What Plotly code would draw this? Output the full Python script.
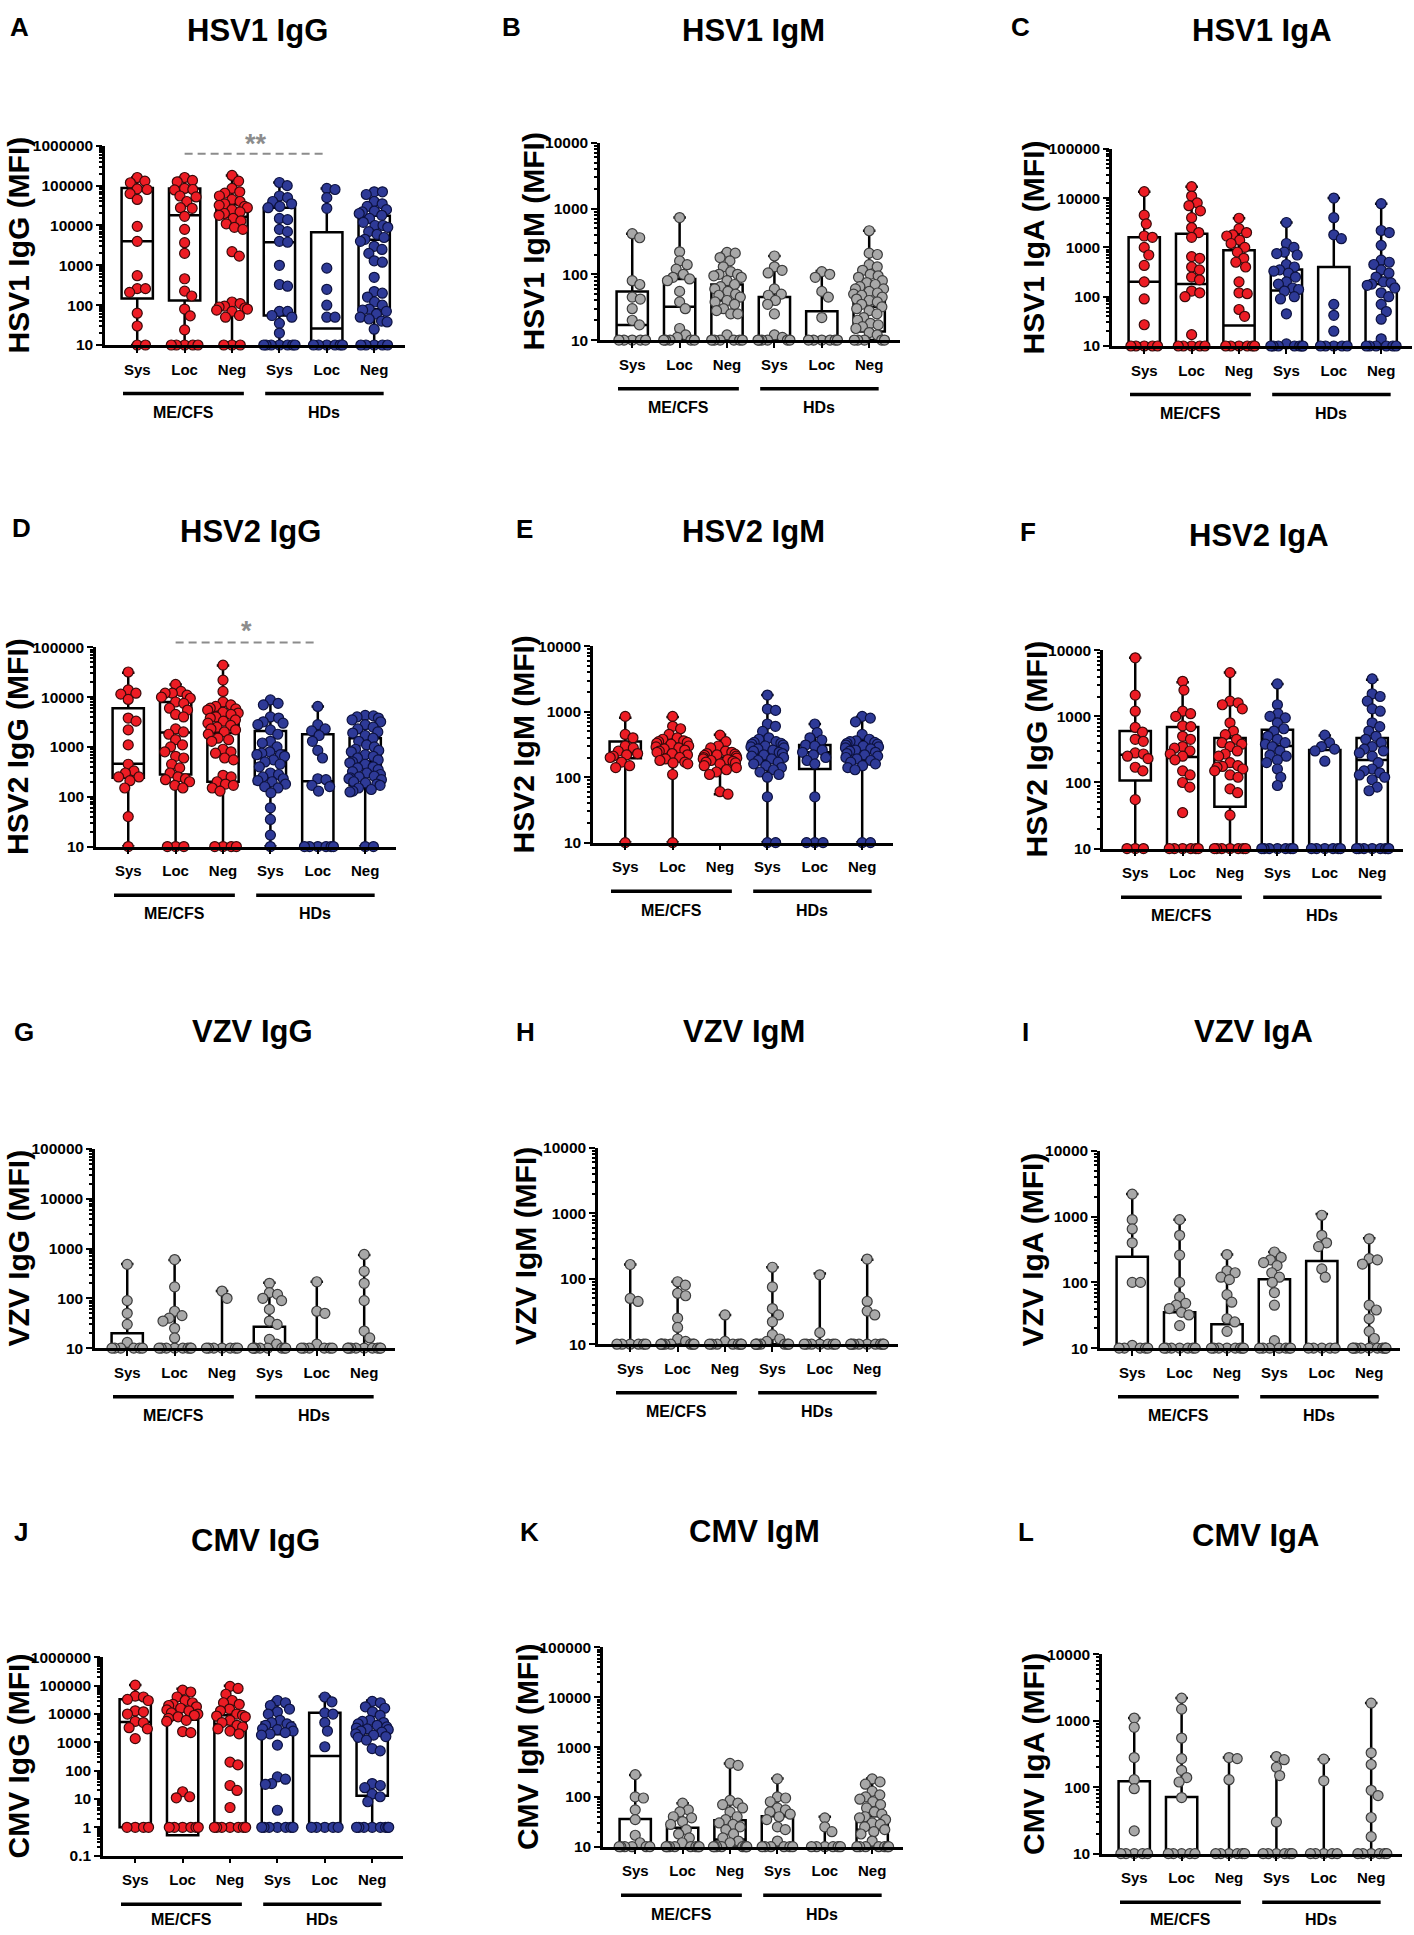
import numpy as np
import plotly.graph_objects as go

# ---- data (MFI values, one list per group) ----
GROUPS = ["Sys", "Loc", "Neg", "Sys", "Loc", "Neg"]
COHORTS = ["ME/CFS", "HDs"]
DECADE_LABELS = ["0.1", "1", "10", "100", "1000", "10000", "100000", "1000000"]

# order of groups: ME/CFS Sys, Loc, Neg, HDs Sys, Loc, Neg
HSV1_IGG = [
    [160000, 130000, 118000, 83000, 80000, 63000, 45000, 9500, 4000, 550, 260, 260, 210, 63, 30, 10, 10],
    [160000, 135000, 125000, 85000, 80000, 78000, 55000, 52000, 40000, 28000, 27000, 17000, 8000, 3700, 2000,
     460, 225, 170, 80, 54, 24, 10, 10, 10, 10, 10],
    [180000, 130000, 85000, 70000, 65000, 55000, 45000, 40000, 35000, 32000, 30000, 28000, 25000, 22000, 20000,
     18000, 15000, 13000, 11000, 9000, 8000, 2200, 1700, 120, 110, 95, 90, 85, 80, 75, 70, 55, 50, 10, 10, 10],
    [120000, 100000, 55000, 50000, 40000, 35000, 30000, 28000, 15000, 14000, 8000, 7000, 4000, 3800, 1000, 330,
     300, 70, 70, 55, 50, 35, 20, 10, 10, 10, 10, 10, 10, 10],
    [85000, 80000, 50000, 27000, 850, 250, 100, 50, 50, 10, 10, 10, 10, 10, 10],
    [70000, 70000, 60000, 40000, 35000, 30000, 25000, 23000, 22000, 20000, 18000, 15000, 12000, 10000, 10000,
     9000, 7000, 6000, 5000, 4500, 4000, 3000, 2500, 2000, 1300, 1200, 500, 220, 200, 160, 120, 100, 80, 75, 70,
     60, 50, 45, 40, 38, 25, 10, 10, 10, 10, 10],
]
# box stats per group: [min, q1, median, q3, max]
HSV1_IGG_BOX = [[10, 148, 4000, 87000, 160000], [10, 131, 18000, 85000, 160000], [10, 109, 16600, 34000, 180000],
                [10, 55, 3800, 28000, 120000], [10, 10, 26, 6800, 85000], [10, 79, 4400, 17500, 70000]]

HSV1_IGM = [
    [415, 360, 80, 70, 45, 42, 30, 20, 17, 10, 10, 10, 10, 10],
    [730, 220, 160, 140, 120, 100, 90, 85, 80, 55, 38, 30, 15, 12, 11, 10, 10, 10, 10, 10],
    [215, 210, 180, 160, 130, 110, 100, 100, 95, 90, 80, 70, 65, 60, 55, 50, 48, 45, 40, 38, 35, 30, 28, 25, 25,
     12, 10, 10, 10, 10, 10, 10],
    [190, 130, 115, 105, 60, 50, 48, 40, 35, 25, 12, 11, 10, 10, 10, 10, 10, 10],
    [110, 100, 90, 55, 45, 22, 10, 10, 10, 10, 10, 10],
    [460, 210, 200, 140, 130, 115, 100, 95, 90, 80, 75, 70, 65, 60, 60, 55, 52, 50, 48, 45, 42, 40, 38, 35, 32,
     30, 28, 25, 22, 20, 18, 17, 16, 15, 13, 12, 10, 10, 10, 10, 10],
]
HSV1_IGM_BOX = [[10, 10, 17, 55, 415], [10, 10, 32, 85, 730], [10, 10, 40, 70, 215],
                [10, 10, 11, 45, 190], [10, 10, 10, 27.5, 112], [10, 13.5, 32, 65, 460]]

HSV1_IGA = [
    [13500, 4500, 3000, 1700, 1600, 1000, 700, 430, 200, 90, 27, 10, 10, 10, 10, 10],
    [17000, 11000, 8000, 7000, 5500, 4000, 2500, 2000, 1600, 650, 600, 400, 350, 250, 220, 130, 120, 100, 17,
     10, 10, 10, 10, 10],
    [3900, 2400, 2000, 1800, 1700, 1400, 1200, 1000, 800, 600, 500, 400, 200, 120, 115, 55, 40, 10, 10, 10, 10,
     10, 10],
    [3200, 1200, 1000, 800, 750, 700, 450, 400, 350, 330, 300, 250, 200, 180, 150, 140, 130, 100, 90, 45, 11,
     10, 10, 10, 10, 10, 10, 10],
    [10000, 4000, 1800, 1500, 70, 42, 20, 10, 10, 10, 10, 10],
    [7700, 2200, 2000, 1100, 550, 500, 450, 350, 300, 250, 200, 190, 180, 170, 150, 120, 100, 70, 50, 35, 14,
     10, 10, 10, 10, 10, 10],
]
HSV1_IGA_BOX = [[10, 10, 200, 1600, 13500], [10, 10, 180, 1900, 17000], [10, 10, 26, 870, 3900],
                [10, 10, 133, 355, 3200], [10, 10, 10, 400, 10000], [10, 10, 10, 180, 7700]]

HSV2_IGG = [
    [32000, 14000, 12000, 11500, 9000, 3800, 3300, 2200, 1100, 450, 330, 300, 250, 250, 210, 150, 40, 10],
    [18000, 13000, 12000, 12000, 11000, 10000, 9500, 8000, 7500, 6000, 5500, 4500, 4000, 2300, 2000, 1800, 1400,
     1100, 1000, 800, 650, 600, 450, 380, 300, 250, 230, 220, 200, 170, 150, 10, 10, 10],
    [44000, 22000, 13000, 8000, 7000, 6500, 6000, 5800, 5500, 5000, 4800, 4500, 4000, 3800, 3500, 3300, 3000,
     2700, 2500, 2300, 2200, 2000, 1800, 1500, 1400, 1300, 900, 800, 750, 600, 550, 270, 250, 200, 180, 170,
     150, 130, 10, 10, 10, 10],
    [8800, 7500, 7000, 4000, 3800, 3200, 3000, 2800, 2200, 1800, 1300, 1200, 1000, 800, 750, 700, 700, 650, 550,
     500, 450, 400, 300, 280, 250, 230, 210, 200, 180, 160, 150, 120, 60, 35, 17, 10],
    [6500, 2800, 2300, 2100, 1700, 1300, 850, 600, 230, 220, 170, 160, 130, 10, 10, 10, 10, 10, 10],
    [4300, 4200, 4000, 3800, 3500, 3200, 2800, 2500, 2300, 2000, 1900, 1700, 1500, 1300, 1100, 1000, 900, 850,
     800, 700, 650, 600, 550, 500, 480, 450, 400, 380, 350, 320, 300, 280, 260, 250, 240, 230, 220, 200, 190,
     180, 170, 150, 140, 130, 125, 10, 10],
]
HSV2_IGG_BOX = [[10, 240, 460, 6000, 31000], [10, 280, 1950, 8000, 18000], [10, 200, 1900, 4900, 43000],
                [10, 183, 850, 2100, 8400], [10, 10, 205, 1800, 6500], [10, 170, 510, 1500, 4400]]

HSV2_IGM = [
    [850, 450, 400, 300, 280, 250, 230, 220, 210, 200, 170, 150, 140, 10],
    [850, 600, 550, 450, 400, 380, 360, 350, 340, 330, 320, 300, 290, 280, 270, 260, 250, 240, 230, 220, 200,
     190, 180, 170, 165, 160, 110, 10],
    [440, 350, 300, 280, 250, 240, 230, 225, 220, 215, 210, 200, 195, 190, 185, 180, 175, 170, 165, 160, 150,
     140, 130, 120, 110, 60, 55],
    [1800, 1100, 1050, 650, 600, 500, 400, 380, 350, 340, 330, 320, 310, 300, 290, 280, 270, 260, 250, 240, 230,
     220, 210, 200, 190, 180, 170, 160, 150, 140, 130, 120, 110, 100, 50, 10, 10],
    [650, 480, 400, 370, 310, 300, 260, 240, 220, 200, 180, 160, 50, 10, 10, 10],
    [850, 800, 700, 450, 380, 360, 350, 340, 330, 320, 310, 300, 290, 280, 270, 260, 250, 240, 230, 220, 210,
     200, 190, 180, 170, 160, 150, 140, 130, 10, 10],
]
HSV2_IGM_BOX = [[10, 194, 230, 350, 810], [10, 190, 285, 370, 830], [55, 170, 200, 230, 445],
                [10, 178, 225, 360, 1800], [10, 133, 240, 310, 650], [10, 183, 250, 360, 840]]

HSV2_IGA = [
    [7700, 2100, 1200, 680, 580, 450, 420, 280, 270, 250, 230, 170, 150, 55, 10, 10, 10],
    [3400, 2500, 1200, 1100, 1000, 720, 700, 500, 450, 350, 330, 300, 270, 250, 220, 150, 130, 100, 85, 35,
     10, 10, 10, 10, 10, 10],
    [4600, 1700, 1600, 1500, 1300, 800, 600, 530, 450, 400, 380, 350, 300, 270, 250, 200, 180, 175, 170, 160,
     150, 130, 120, 80, 70, 32, 10, 10, 10, 10, 10, 10, 10],
    [3100, 1500, 1100, 1000, 950, 800, 650, 600, 500, 450, 400, 380, 350, 300, 260, 250, 220, 200, 160, 120, 90,
     10, 10, 10, 10, 10, 10, 10],
    [520, 400, 350, 320, 300, 210, 10, 10, 10, 10, 10, 10],
    [3700, 2200, 2000, 1700, 1300, 1200, 800, 700, 600, 500, 450, 400, 350, 320, 300, 280, 250, 200, 160, 150,
     140, 130, 120, 110, 85, 75, 10, 10, 10, 10, 10, 10, 10, 10],
]
HSV2_IGA_BOX = [[10, 107, 263, 600, 7700], [10, 10, 243, 690, 3300], [10, 43, 175, 470, 4600],
                [10, 10, 355, 630, 3100], [10, 10, 10, 310, 515], [10, 10, 218, 470, 3600]]

VZV_IGG = [
    [480, 90, 50, 30, 13, 10, 10, 10, 10, 10, 10],
    [600, 170, 55, 45, 40, 35, 25, 16, 10, 10, 10, 10, 10, 10, 10, 10],
    [140, 100, 10, 10, 10, 10, 10, 10, 10],
    [200, 130, 120, 100, 90, 60, 35, 30, 15, 12, 10, 10, 10, 10, 10, 10, 10, 10],
    [215, 55, 50, 12, 10, 10, 10, 10, 10, 10],
    [760, 350, 200, 90, 22, 16, 10, 10, 10, 10, 10, 10, 10, 10, 10],
]
VZV_IGG_BOX = [[10, 10, 10, 20, 490], [10, 10, 10, 10, 590], [10, 10, 10, 10, 140],
               [10, 10, 10, 27, 205], [10, 10, 10, 10, 215], [10, 10, 10, 10, 740]]

VZV_IGM = [
    [165, 50, 45, 10, 10, 10, 10, 10, 10],
    [90, 80, 60, 55, 25, 18, 12, 11, 10, 10, 10, 10, 10, 10, 10, 10],
    [28, 11, 10, 10, 10, 10, 10, 10, 10],
    [150, 75, 35, 28, 22, 14, 12, 11, 10, 10, 10, 10, 10, 10, 10],
    [115, 15, 10, 10, 10, 10, 10, 10, 10],
    [200, 45, 32, 28, 10, 10, 10, 10, 10, 10, 10, 10, 10],
]
VZV_IGM_BOX = [[10, 10, 10, 10, 165], [10, 10, 10, 10, 90], [10, 10, 10, 10, 28],
               [10, 10, 10, 10, 150], [10, 10, 10, 10, 120], [10, 10, 10, 10, 195]]

VZV_IGA = [
    [2200, 900, 650, 400, 100, 100, 11, 10, 10, 10, 10, 10],
    [900, 520, 260, 100, 60, 48, 45, 40, 35, 32, 22, 10, 10, 10, 10, 10, 10, 10],
    [265, 150, 140, 120, 110, 65, 50, 28, 25, 18, 10, 10, 10, 10, 10, 10, 10, 10],
    [290, 240, 220, 200, 180, 140, 120, 100, 70, 45, 13, 10, 10, 10, 10, 10, 10, 10],
    [1050, 520, 400, 350, 160, 120, 10, 10, 10, 10, 10],
    [460, 230, 220, 190, 45, 38, 28, 18, 14, 10, 10, 10, 10, 10, 10, 10, 10, 10, 10],
]
VZV_IGA_BOX = [[10, 10, 10, 245, 2200], [10, 10, 10, 35, 900], [10, 10, 10, 23, 265],
               [10, 10, 10, 112, 290], [10, 10, 10, 212, 1100], [10, 10, 10, 10, 470]]

CMV_IGG = [
    [105000, 43000, 40000, 33000, 30000, 13000, 12000, 10000, 5500, 5000, 3300, 3000, 1350, 1, 1, 1, 1],
    [70000, 60000, 40000, 30000, 25000, 22000, 20000, 18000, 16000, 14000, 13000, 11000, 10000, 9000, 8000,
     7000, 6000, 5500, 2400, 2200, 18, 12, 11, 1, 1, 1, 1, 1, 1],
    [95000, 80000, 50000, 30000, 25000, 22000, 15000, 13000, 10000, 9000, 8500, 8000, 6000, 5000, 4000, 3500,
     3000, 2500, 2000, 200, 160, 30, 20, 5, 1, 1, 1, 1, 1, 1, 1],
    [30000, 25000, 20000, 15000, 12000, 10000, 6000, 5000, 4500, 4000, 3500, 3000, 2800, 2500, 2200, 2000, 1800,
     800, 60, 50, 35, 33, 4, 1, 1, 1, 1, 1, 1, 1],
    [40000, 27000, 11000, 10000, 5000, 2500, 700, 1, 1, 1, 1, 1],
    [28000, 25000, 18000, 16000, 12000, 9000, 6000, 5500, 5000, 4500, 4000, 3500, 3200, 3000, 2800, 2500, 2300,
     2000, 1800, 1600, 1500, 1200, 600, 500, 35, 30, 25, 15, 12, 8, 1, 1, 1, 1, 1, 1, 1, 1],
]
CMV_IGG_BOX = [[1, 1, 5200, 33000, 107000], [0.52, 0.52, 6300, 15500, 78000], [1, 1, 4400, 9000, 100000],
               [1, 1, 1950, 5000, 30000], [1, 1, 330, 11000, 42000], [1, 13, 2100, 4800, 30000]]

CMV_IGM = [
    [280, 100, 95, 55, 35, 17, 12, 10, 10, 10, 10, 10, 10],
    [75, 55, 50, 40, 38, 32, 28, 22, 18, 15, 12, 10, 10, 10, 10, 10, 10, 10, 10],
    [470, 430, 85, 75, 70, 60, 50, 40, 35, 30, 28, 25, 22, 18, 15, 13, 12, 10, 10, 10, 10, 10, 10, 10, 10],
    [230, 100, 95, 80, 60, 55, 50, 45, 40, 35, 25, 22, 13, 10, 10, 10, 10, 10, 10],
    [38, 25, 20, 10, 10, 10, 10, 10, 10],
    [230, 200, 180, 130, 110, 100, 90, 80, 70, 60, 50, 45, 40, 38, 35, 30, 28, 25, 22, 20, 18, 13, 10, 10, 10,
     10, 10, 10, 10],
]
CMV_IGM_BOX = [[10, 10, 11, 36, 275], [10, 10, 10, 24, 75], [10, 10, 14, 34, 470],
               [10, 10, 11, 41, 235], [10, 10, 10, 11, 40], [10, 10, 22, 41, 235]]

CMV_IGA = [
    [1100, 800, 280, 130, 95, 22, 10, 10, 10, 10, 10],
    [2200, 1500, 550, 270, 180, 140, 120, 70, 10, 10, 10, 10, 10],
    [280, 270, 130, 10, 10, 10, 10, 10, 10],
    [290, 260, 200, 150, 30, 10, 10, 10, 10, 10, 10],
    [265, 125, 10, 10, 10, 10, 10],
    [1850, 330, 220, 90, 75, 35, 18, 10, 10, 10, 10, 10, 10],
]
CMV_IGA_BOX = [[10, 10, 10, 123, 1100], [10, 10, 10, 71, 2200], [10, 10, 10, 10, 280],
               [10, 10, 10, 10, 290], [10, 10, 10, 10, 265], [10, 10, 10, 10, 1850]]

CUTOFF = 100

# ---- layout (pixel positions measured on the 1414x1935 page) ----
W, H = 1414, 1935
CAT_PX = 47.4          # px between two categories
X_RANGE = [-0.68, 5.65]
FONT = "Liberation Sans, Arial, sans-serif"
RED, BLUE, GREY = "#ED1C24", "#2E3A97", "#A8A8A8"

PANELS = [
    dict(letter="A", title="HSV1 IgG", ylab="HSV1 IgG (MFI)", data=HSV1_IGG, box=HSV1_IGG_BOX, colored=True,
         cut=False, ax=105, top=138, bot=339, yr=(1, 6), tx=257, ty=22, lx=8, ly=18, yt=18),
    dict(letter="B", title="HSV1 IgM", ylab="HSV1 IgM (MFI)", data=HSV1_IGM, box=HSV1_IGM_BOX, colored=False,
         cut=True, ax=600, top=135, bot=334, yr=(1, 4), tx=753, ty=22, lx=500, ly=18, yt=533),
    dict(letter="C", title="HSV1 IgA", ylab="HSV1 IgA (MFI)", data=HSV1_IGA, box=HSV1_IGA_BOX, colored=True,
         cut=False, ax=1112, top=141, bot=340, yr=(1, 5), tx=1262, ty=22, lx=1009, ly=18, yt=1033),
    dict(letter="D", title="HSV2 IgG", ylab="HSV2 IgG (MFI)", data=HSV2_IGG, box=HSV2_IGG_BOX, colored=True,
         cut=False, ax=96, top=644, bot=845, yr=(1, 5), tx=250, ty=527, lx=10, ly=524, yt=18),
    dict(letter="E", title="HSV2 IgM", ylab="HSV2 IgM (MFI)", data=HSV2_IGM, box=HSV2_IGM_BOX, colored=True,
         cut=False, ax=593, top=643, bot=841, yr=(1, 4), tx=753, ty=527, lx=514, ly=525, yt=523),
    dict(letter="F", title="HSV2 IgA", ylab="HSV2 IgG (MFI)", data=HSV2_IGA, box=HSV2_IGA_BOX, colored=True,
         cut=False, ax=1103, top=647, bot=847, yr=(1, 4), tx=1259, ty=531, lx=1018, ly=528, yt=1036),
    dict(letter="G", title="VZV IgG", ylab="VZV IgG (MFI)", data=VZV_IGG, box=VZV_IGG_BOX, colored=False,
         cut=True, ax=95, top=1150, bot=1351, yr=(1, 5), tx=253, ty=1032, lx=12, ly=1032, yt=19),
    dict(letter="H", title="VZV IgM", ylab="VZV IgM (MFI)", data=VZV_IGM, box=VZV_IGM_BOX, colored=False,
         cut=True, ax=598, top=1149, bot=1347, yr=(1, 4), tx=744, ty=1032, lx=514, ly=1032, yt=525),
    dict(letter="I", title="VZV IgA", ylab="VZV IgA (MFI)", data=VZV_IGA, box=VZV_IGA_BOX, colored=False,
         cut=True, ax=1100, top=1152, bot=1351, yr=(1, 4), tx=1253, ty=1032, lx=1020, ly=1032, yt=1033),
    dict(letter="J", title="CMV IgG", ylab="CMV IgG (MFI)", data=CMV_IGG, box=CMV_IGG_BOX, colored=True,
         cut=False, ax=103, top=1663, bot=1863, yr=(-1, 6), tx=255, ty=1545, lx=12, ly=1536, yt=19),
    dict(letter="K", title="CMV IgM", ylab="CMV IgM (MFI)", data=CMV_IGM, box=CMV_IGM_BOX, colored=False,
         cut=True, ax=603, top=1653, bot=1854, yr=(1, 5), tx=755, ty=1536, lx=518, ly=1536, yt=527),
    dict(letter="L", title="CMV IgA", ylab="CMV IgA (MFI)", data=CMV_IGA, box=CMV_IGA_BOX, colored=False,
         cut=True, ax=1102, top=1660, bot=1861, yr=(1, 4), tx=1255, ty=1540, lx=1016, ly=1536, yt=1033),
]

# significance bars: panel, from group, to group, label, y of line (px), y of stars (px)
SIGNIF = [("A", 1, 4, "**", 146, 136), ("D", 1, 4, "*", 639, 628)]


def swarm(vals, ppd, d=9.0, lim=17.0):
    """Simple beeswarm: horizontal px offsets so markers don't pile up."""
    ys = np.log10(np.asarray(vals, dtype=float)) * ppd
    xs = np.zeros(len(ys))
    placed = []
    for i in np.argsort(-ys, kind="stable"):
        y = ys[i]
        near = [(px, py) for px, py in placed if abs(py - y) < d]
        cands = [0.0]
        for px, py in near:
            dx = np.sqrt(d * d - (py - y) ** 2)
            cands += [px + dx, px - dx]
        cands.sort(key=lambda c: (round(abs(c), 6), -c))
        for c in cands:
            if all((c - px) ** 2 + (y - py) ** 2 >= d * d - 1e-6 for px, py in near):
                xs[i] = c
                break
        placed.append((xs[i], y))
    return lim * np.tanh(xs / lim)


def px_y(py):
    return 1 - py / H


fig = go.Figure()
annotations = []
shapes = []
bold = dict(family=FONT, color="black", weight="bold")

for n, p in enumerate(PANELS, start=1):
    xa = "x" if n == 1 else f"x{n}"
    ya = "y" if n == 1 else f"y{n}"
    lo, hi = p["yr"]
    ppd = (p["bot"] - p["top"]) / (hi - lo)

    # box & whiskers (min to max)
    stats = np.array(p["box"], dtype=float)
    fig.add_trace(go.Box(
        x=list(range(6)), lowerfence=stats[:, 0], q1=stats[:, 1], median=stats[:, 2],
        q3=stats[:, 3], upperfence=stats[:, 4],
        boxpoints=False, width=0.66, whiskerwidth=0.4,
        fillcolor="white", line=dict(color="black", width=2.5),
        xaxis=xa, yaxis=ya, showlegend=False, hoverinfo="skip",
    ))

    # individual points
    for g, vals in enumerate(p["data"]):
        if p["colored"]:
            fill, edge = (RED, "#3a0a0a") if g < 3 else (BLUE, "#0d1240")
        else:
            fill, edge = GREY, "#3c3c3c"
        off = swarm(vals, ppd)
        fig.add_trace(go.Scatter(
            x=g + off / CAT_PX, y=vals, mode="markers",
            marker=dict(size=10, color=fill, line=dict(color=edge, width=1.2)),
            cliponaxis=False, xaxis=xa, yaxis=ya, showlegend=False, hoverinfo="skip",
        ))

    xdom = [p["ax"] / W, (p["ax"] + 300) / W]
    ydom = [px_y(p["bot"]), px_y(p["top"])]
    yticks = [10.0 ** k for k in range(lo, hi + 1)]
    ytext = [DECADE_LABELS[k + 1] for k in range(lo, hi + 1)]
    minor = [m * 10.0 ** k for k in range(lo, hi) for m in range(2, 10)]

    fig.update_layout({
        f"xaxis{'' if n == 1 else n}": dict(
            domain=xdom, range=X_RANGE, anchor=ya, showgrid=False, zeroline=False,
            showline=True, linecolor="black", linewidth=2.5,
            ticks="outside", ticklen=5, tickwidth=2, tickcolor="black",
            tickmode="array", tickvals=list(range(6)), ticktext=GROUPS,
            tickfont=dict(size=15, **bold), ticklabelstandoff=4,
        ),
        f"yaxis{'' if n == 1 else n}": dict(
            domain=ydom, type="log", range=[lo, hi], anchor=xa, showgrid=False, zeroline=False,
            showline=True, linecolor="black", linewidth=2.5,
            ticks="outside", ticklen=6, tickwidth=2, tickcolor="black",
            tickmode="array", tickvals=yticks, ticktext=ytext,
            tickfont=dict(size=15.5, **bold),
            minor=dict(tickmode="array", tickvals=minor, ticks="outside", ticklen=3,
                       tickwidth=1.5, tickcolor="black"),
        ),
    })

    # cutoff line at 100 MFI
    if p["cut"]:
        shapes.append(dict(type="line", xref=xa, yref=ya, x0=-0.45, x1=5.45, y0=np.log10(CUTOFF),
                           y1=np.log10(CUTOFF), layer="below",
                           line=dict(color="black", width=3, dash="3px,10px")))

    # cohort bars and labels under the axis
    for c, (x0, x1) in enumerate([(-0.3, 2.25), (2.7, 5.2)]):
        shapes.append(dict(type="line", xref=xa, yref="paper", x0=x0, x1=x1,
                           y0=px_y(p["bot"] + 49), y1=px_y(p["bot"] + 49),
                           line=dict(color="black", width=3.5)))
        annotations.append(dict(xref=xa, yref="paper", x=(x0 + x1) / 2, y=px_y(min(p["bot"] + 68, H - 8)),
                                text=COHORTS[c], showarrow=False, xanchor="center", yanchor="middle",
                                font=dict(size=16, **bold)))

    # titles, panel letters, y titles
    annotations.append(dict(xref="paper", yref="paper", x=p["tx"] / W, y=px_y(p["ty"]), text=p["title"],
                            showarrow=False, xanchor="center", yanchor="middle", font=dict(size=31, **bold)))
    annotations.append(dict(xref="paper", yref="paper", x=p["lx"] / W, y=px_y(p["ly"]), text=p["letter"],
                            showarrow=False, xanchor="left", yanchor="middle", font=dict(size=26, **bold)))
    annotations.append(dict(xref="paper", yref="paper", x=p["yt"] / W, y=px_y((p["top"] + p["bot"]) / 2),
                            text=p["ylab"], textangle=-90, showarrow=False, xanchor="center",
                            yanchor="middle", font=dict(size=30, **bold)))

    for letter, g0, g1, star, yl, ys in SIGNIF:
        if letter == p["letter"]:
            shapes.append(dict(type="line", xref=xa, yref="paper", x0=g0, x1=g1, y0=px_y(yl), y1=px_y(yl),
                               line=dict(color="#8c8c8c", width=2, dash="8px,5px")))
            annotations.append(dict(xref=xa, yref="paper", x=(g0 + g1) / 2, y=px_y(ys), text=star,
                                    showarrow=False, xanchor="center", yanchor="middle",
                                    font=dict(size=27, family=FONT, color="#8c8c8c", weight="bold")))

fig.update_layout(
    width=W, height=H, margin=dict(l=0, r=0, t=0, b=0),
    paper_bgcolor="white", plot_bgcolor="white",
    annotations=annotations, shapes=shapes, showlegend=False,
    font=dict(family=FONT, color="black"),
)

# page body margin would shift the whole figure by 8 px
fig.write_html("out.html", config={"displayModeBar": False},
               post_script="document.body.style.margin='0px';")
